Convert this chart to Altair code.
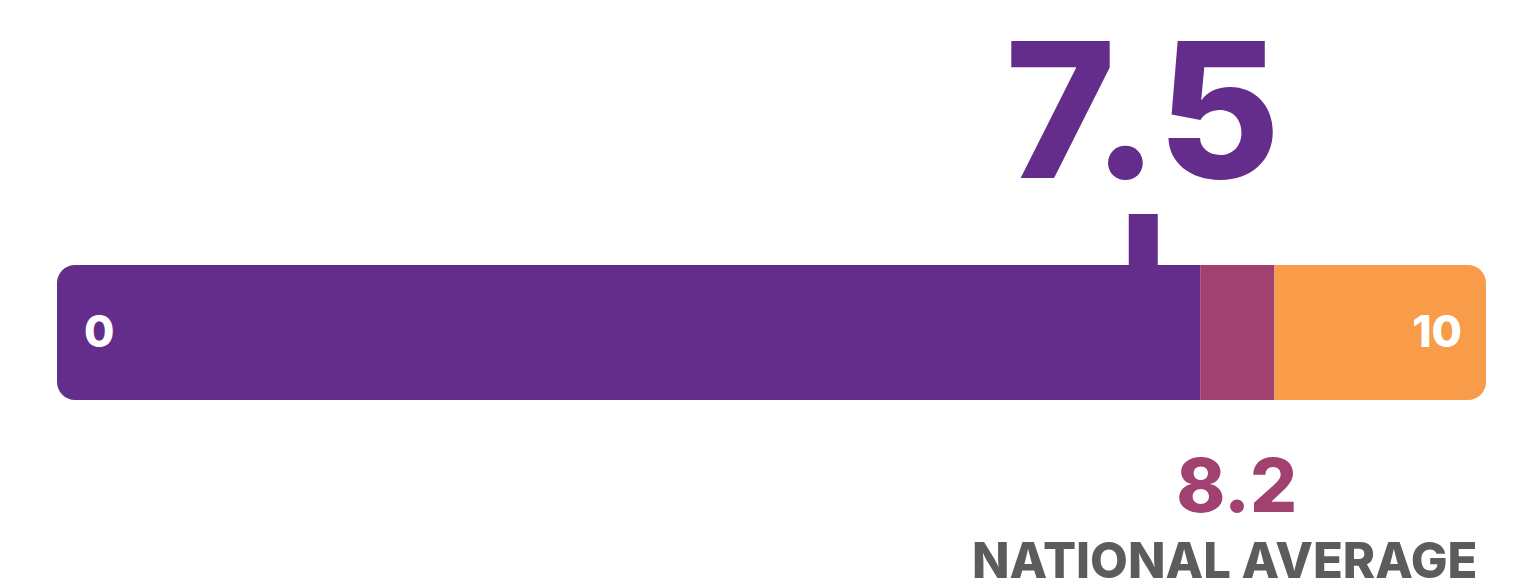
import altair as alt
import pandas as pd

# ---- data ----
seg_start = [0.0, 8.0, 8.52]
seg_end = [8.0, 8.52, 10.0]
seg_color = ["#652d8b", "#a1416f", "#f89c4a"]
score = [7.5]
score_label = ["7.5"]
national_avg = [8.2]
national_label = ["8.2"]
national_text = ["NATIONAL AVERAGE"]
end_values = [0, 10]
end_labels = ["0", "10"]

xscale = alt.Scale(domain=[0, 10], range=[49, 1478])
FONT = "Inter"
W = 800

seg_df = pd.DataFrame({"start": seg_start, "end": seg_end, "color": seg_color})

def seg_layer(i, **corners):
    return alt.Chart(seg_df.iloc[[i]]).mark_rect(**corners).encode(
        x=alt.X("start:Q", scale=xscale, axis=None),
        x2="end:Q",
        y=alt.value(257),
        y2=alt.value(392),
        color=alt.Color("color:N", scale=None),
    )

left = seg_layer(0, cornerRadiusTopLeft=18, cornerRadiusBottomLeft=18)
mid = seg_layer(1)
right = seg_layer(2, cornerRadiusTopRight=18, cornerRadiusBottomRight=18)

score_df = pd.DataFrame({"v": score, "label": score_label})
tick = alt.Chart(score_df).mark_rule(strokeWidth=29, color="#652d8b", xOffset=14.5).encode(
    x=alt.X("v:Q", scale=xscale, axis=None),
    y=alt.value(206),
    y2=alt.value(258),
)
score_text = alt.Chart(score_df).mark_text(
    font=FONT, fontWeight=W, fontSize=188, color="#652d8b",
    align="center", baseline="alphabetic", dx=14,
).encode(
    x=alt.X("v:Q", scale=xscale, axis=None),
    y=alt.value(170),
    text="label:N",
)

nat_df = pd.DataFrame({"v": national_avg, "label": national_label, "txt": national_text})
nat_num = alt.Chart(nat_df).mark_text(
    font=FONT, fontWeight=W, fontSize=74, color="#a1416f",
    align="center", baseline="alphabetic", dx=8,
).encode(
    x=alt.X("v:Q", scale=xscale, axis=None),
    y=alt.value(504),
    text="label:N",
)
nat_txt = alt.Chart(nat_df).mark_text(
    font=FONT, fontWeight=W, fontSize=49, color="#5b5c5e",
    align="center", baseline="alphabetic", dx=-4,
).encode(
    x=alt.X("v:Q", scale=xscale, axis=None),
    y=alt.value(570),
    text="txt:N",
)

ends_df = pd.DataFrame({"v": end_values, "label": end_labels})
zero_lbl = alt.Chart(ends_df.iloc[[0]]).mark_text(
    font=FONT, fontWeight=W, fontSize=44, color="white",
    align="left", baseline="alphabetic", dx=27,
).encode(
    x=alt.X("v:Q", scale=xscale, axis=None),
    y=alt.value(339),
    text="label:N",
)
ten_lbl = alt.Chart(ends_df.iloc[[1]]).mark_text(
    font=FONT, fontWeight=W, fontSize=44, color="white",
    align="right", baseline="alphabetic", dx=-24,
).encode(
    x=alt.X("v:Q", scale=xscale, axis=None),
    y=alt.value(339),
    text="label:N",
)

chart = alt.layer(
    left, mid, right, tick, score_text, nat_num, nat_txt, zero_lbl, ten_lbl
).properties(
    width=1506, height=579,
    autosize=alt.AutoSizeParams(type="none"),
    padding=0,
).configure_view(stroke=None)

chart.save("out.html", embed_options={"renderer": "svg", "actions": False})
